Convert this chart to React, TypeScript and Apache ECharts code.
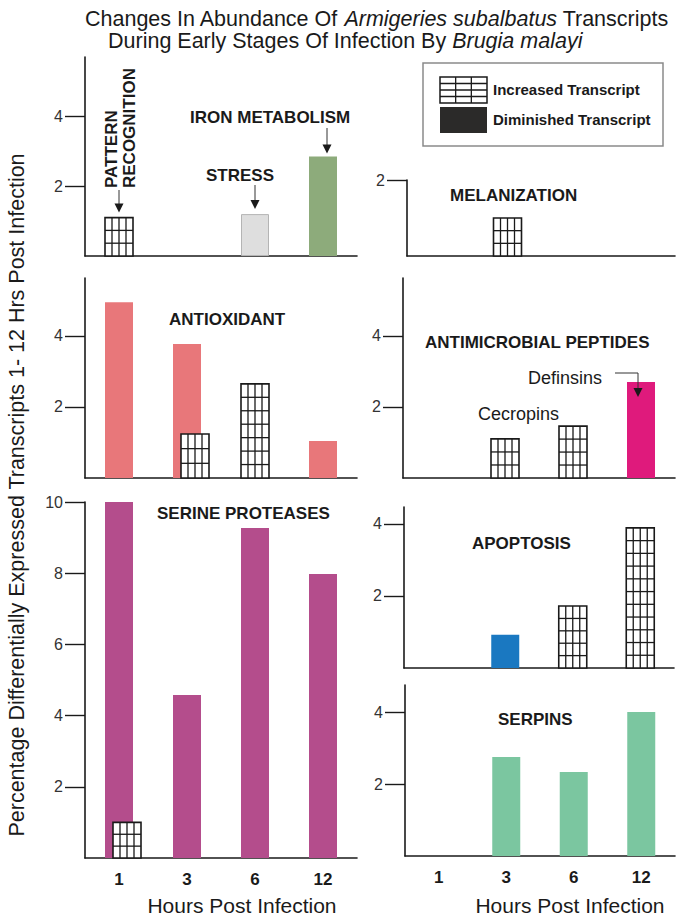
import React, { useEffect, useRef } from "react";
import * as echarts from "echarts";

// ---------- DATA ----------
const categories = ["1", "3", "6", "12"];

// Pattern recognition / stress / iron metabolism panel
const patternRecognitionIncreased = [1.1, null, null, null];
const stressValues = [null, null, 1.2, null];
const ironMetabolismValues = [null, null, null, 2.85];
// Melanization
const melanizationIncreased = [null, 1.0, null, null];
// Antioxidant
const antioxidantValues = [4.95, 3.77, null, 1.04];
const antioxidantIncreased = [null, 1.24, 2.65, null];
// Antimicrobial peptides
const cecropinsIncreased = [null, 1.1, 1.46, null];
const defensinsValues = [null, null, null, 2.7];
// Serine proteases
const serineProteaseValues = [10, 4.58, 9.27, 7.98];
const serineProteaseIncreased = [1.0, null, null, null];
// Apoptosis
const apoptosisValues = [null, 0.92, null, null];
const apoptosisIncreased = [null, null, 1.72, 3.89];
// Serpins
const serpinValues = [null, 2.75, 2.33, 4.0];

// tick labels
const ticksSmall = [2, 4];
const ticksMelanization = [2];
const ticksSerine = [2, 4, 6, 8, 10];

// ---------- STYLE / LAYOUT ----------
const FONT = '"Liberation Sans", Arial, Helvetica, sans-serif';
const INK = "#1a1a1a";
const BAR_W = 28;
const OVERLAP_SHIFT = 8;

const panels = [
  { left: 85, top: 57, width: 272, height: 199, max: 5.7, ticks: ticksSmall, showX: false },
  { left: 407, top: 180, width: 268, height: 76, max: 2, ticks: ticksMelanization, showX: false },
  { left: 85, top: 278, width: 272, height: 200, max: 5.63, ticks: ticksSmall, showX: false },
  { left: 403, top: 278, width: 272, height: 200, max: 5.63, ticks: ticksSmall, showX: false },
  { left: 85, top: 502, width: 272, height: 356, max: 10, ticks: ticksSerine, showX: true },
  { left: 404, top: 507, width: 270, height: 161, max: 4.47, ticks: ticksSmall, showX: false },
  { left: 405, top: 685, width: 270, height: 171, max: 4.75, ticks: ticksSmall, showX: true },
];

function solidBar(g: number, name: string, values: (number | null)[], color: string, border?: string) {
  return {
    type: "bar",
    name,
    xAxisIndex: g,
    yAxisIndex: g,
    data: values,
    barWidth: BAR_W,
    barGap: "-100%",
    z: 2,
    silent: true,
    itemStyle: border
      ? { color, borderColor: border, borderWidth: 1 }
      : { color },
  };
}

function gridBar(g: number, name: string, values: (number | null)[], overlap?: (number | null)[]) {
  const data: number[][] = [];
  values.forEach((v, i) => {
    if (v != null) data.push([i, v]);
  });
  return {
    type: "custom",
    name,
    xAxisIndex: g,
    yAxisIndex: g,
    z: 3,
    silent: true,
    data,
    renderItem: (params: any, api: any) => {
      const ci = api.value(0);
      const v = api.value(1);
      const base = api.coord([ci, 0]);
      const top = api.coord([ci, v]);
      const shift = overlap && overlap[ci] != null ? OVERLAP_SHIFT : 0;
      const x0 = base[0] - BAR_W / 2 + shift;
      const h = base[1] - top[1];
      const children: any[] = [
        {
          type: "rect",
          shape: { x: x0, y: top[1], width: BAR_W, height: h },
          style: { fill: "#ffffff", stroke: INK, lineWidth: 1.6 },
        },
      ];
      for (let k = 1; k < 4; k++) {
        const x = x0 + (BAR_W * k) / 4;
        children.push({
          type: "line",
          shape: { x1: x, y1: top[1], x2: x, y2: base[1] },
          style: { stroke: INK, lineWidth: 1.3 },
        });
      }
      const rows = Math.max(1, Math.round(h / 12.7));
      for (let r = 1; r < rows; r++) {
        const y = base[1] - (h * r) / rows;
        children.push({
          type: "line",
          shape: { x1: x0, y1: y, x2: x0 + BAR_W, y2: y },
          style: { stroke: INK, lineWidth: 1.3 },
        });
      }
      return { type: "group", children };
    },
  };
}

function buildOption() {
  return {
    animation: false,
    backgroundColor: "#ffffff",
    grid: panels.map((p) => ({
      left: p.left,
      top: p.top,
      width: p.width,
      height: p.height,
      containLabel: false,
    })),
    xAxis: panels.map((p, i) => ({
      type: "category",
      gridIndex: i,
      data: categories,
      axisLine: { show: true, onZero: false, lineStyle: { color: INK, width: 1.6 } },
      axisTick: { show: false },
      axisLabel: {
        show: p.showX,
        margin: 13,
        fontWeight: "bold",
        fontSize: 17,
        color: INK,
        fontFamily: FONT,
      },
      splitLine: { show: false },
    })),
    yAxis: panels.map((p, i) => ({
      type: "value",
      gridIndex: i,
      min: 0,
      max: p.max,
      axisLine: { show: true, lineStyle: { color: INK, width: 1.6 } },
      axisTick: {
        show: true,
        inside: false,
        length: 20,
        customValues: p.ticks,
        lineStyle: { color: INK, width: 1.4 },
      },
      axisLabel: {
        show: true,
        customValues: p.ticks,
        margin: 22,
        color: "#333333",
        fontSize: 16,
        fontFamily: FONT,
      },
      splitLine: { show: false },
    })),
    series: [
      gridBar(0, "Pattern recognition", patternRecognitionIncreased),
      solidBar(0, "Stress", stressValues, "#dedede", "#b4b4b4"),
      solidBar(0, "Iron metabolism", ironMetabolismValues, "#8dab7b"),
      gridBar(1, "Melanization", melanizationIncreased),
      solidBar(2, "Antioxidant", antioxidantValues, "#e8777a"),
      gridBar(2, "Antioxidant increased", antioxidantIncreased, antioxidantValues),
      gridBar(3, "Cecropins", cecropinsIncreased),
      solidBar(3, "Definsins", defensinsValues, "#df1a7c"),
      solidBar(4, "Serine proteases", serineProteaseValues, "#b44d8c"),
      gridBar(4, "Serine proteases increased", serineProteaseIncreased, serineProteaseValues),
      solidBar(5, "Apoptosis", apoptosisValues, "#1a78c1"),
      gridBar(5, "Apoptosis increased", apoptosisIncreased),
      solidBar(6, "Serpins", serpinValues, "#7bc6a0"),
    ],
  };
}

function txt(x: number, y: number, text: string, size: number, opts: any = {}) {
  const align = opts.align || "left";
  return {
    type: "text",
    x,
    y,
    rotation: opts.rotation || 0,
    z: 10,
    style: {
      text,
      fill: opts.fill || INK,
      fontSize: size,
      fontFamily: FONT,
      fontWeight: opts.bold ? "bold" : "normal",
      fontStyle: opts.italic ? "italic" : "normal",
      align,
      textAlign: align,
      verticalAlign: "middle",
      textVerticalAlign: "middle",
      lineHeight: opts.lineHeight,
      rich: opts.rich,
    },
  };
}

function arrowHead(x: number, tipY: number) {
  return {
    type: "polygon",
    z: 10,
    shape: { points: [[x - 4.5, tipY - 9], [x + 4.5, tipY - 9], [x, tipY]] },
    style: { fill: INK },
  };
}

function arrowDown(x: number, y1: number, tipY: number) {
  return [
    {
      type: "line",
      z: 10,
      shape: { x1: x, y1, x2: x, y2: tipY - 8 },
      style: { stroke: "#333", lineWidth: 1 },
    },
    arrowHead(x, tipY),
  ];
}

function buildGraphics(chart: any) {
  const px = (g: number, ci: number, v: number) =>
    chart.convertToPixel({ gridIndex: g }, [ci, v]) as number[];

  const pattern = px(0, 0, patternRecognitionIncreased[0] as number);
  const stress = px(0, 2, stressValues[2] as number);
  const iron = px(0, 3, ironMetabolismValues[3] as number);
  const defs = px(3, 3, defensinsValues[3] as number);

  const rich = {
    n: { fontSize: 21.5, fontFamily: FONT, fill: INK },
    i: { fontSize: 21.5, fontFamily: FONT, fill: INK, fontStyle: "italic" },
  };

  const els: any[] = [
    // titles
    txt(85, 19, "{n|Changes In Abundance Of }{i|Armigeries subalbatus}{n| Transcripts}", 21.5, { rich }),
    txt(108, 41, "{n|During Early Stages Of Infection By }{i|Brugia malayi}", 21.5, { rich }),
    // y axis title
    txt(17, 495, "Percentage Differentially Expressed Transcripts 1- 12 Hrs Post Infection", 21.5, {
      align: "center",
      rotation: Math.PI / 2,
    }),
    // x axis titles
    txt(242, 905, "Hours Post Infection", 21, { align: "center" }),
    txt(570, 905, "Hours Post Infection", 21, { align: "center" }),
    // panel labels
    txt(pattern[0] + 1, 188, "PATTERN\nRECOGNITION", 17, { bold: true, rotation: Math.PI / 2, lineHeight: 18 }),
    txt(240, 175, "STRESS", 17, { bold: true, align: "center" }),
    txt(190, 117, "IRON METABOLISM", 17, { bold: true }),
    txt(450, 195, "MELANIZATION", 17, { bold: true }),
    txt(169, 319, "ANTIOXIDANT", 17, { bold: true }),
    txt(425, 342, "ANTIMICROBIAL PEPTIDES", 17, { bold: true }),
    txt(528, 378, "Definsins", 18),
    txt(478, 414, "Cecropins", 18),
    txt(157, 513, "SERINE PROTEASES", 17, { bold: true }),
    txt(472, 543, "APOPTOSIS", 17, { bold: true }),
    txt(498, 719, "SERPINS", 17, { bold: true }),
    // arrows
    ...arrowDown(pattern[0], 190, pattern[1] - 5),
    ...arrowDown(stress[0], 185, stress[1] - 5),
    ...arrowDown(iron[0] + 4, 128, iron[1] - 3),
    {
      type: "polyline",
      z: 10,
      shape: { points: [[615, 373], [defs[0] - 3, 373], [defs[0] - 3, defs[1] + 7]] },
      style: { stroke: "#333", lineWidth: 1, fill: null },
    },
    arrowHead(defs[0] - 3, defs[1] + 15),
    // legend
    {
      type: "rect",
      z: 9,
      shape: { x: 423, y: 63, width: 240, height: 83 },
      style: { fill: "#ffffff", stroke: "#8a8a8a", lineWidth: 1.5 },
    },
    {
      type: "rect",
      z: 10,
      shape: { x: 440, y: 77, width: 47, height: 26 },
      style: { fill: "#ffffff", stroke: INK, lineWidth: 1.5 },
    },
    ...[1, 2].map((k) => ({
      type: "line",
      z: 10,
      shape: { x1: 440 + (47 * k) / 3, y1: 77, x2: 440 + (47 * k) / 3, y2: 103 },
      style: { stroke: INK, lineWidth: 1.3 },
    })),
    ...[1, 2, 3].map((k) => ({
      type: "line",
      z: 10,
      shape: { x1: 440, y1: 77 + (26 * k) / 4, x2: 487, y2: 77 + (26 * k) / 4 },
      style: { stroke: INK, lineWidth: 1.3 },
    })),
    {
      type: "rect",
      z: 10,
      shape: { x: 440, y: 107, width: 47, height: 26 },
      style: { fill: "#2b2a29" },
    },
    txt(493, 89, "Increased Transcript", 15, { bold: true }),
    txt(493, 119, "Diminished Transcript", 15, { bold: true }),
  ];
  return { elements: els };
}

export default function App() {
  const ref = useRef<HTMLDivElement>(null);
  useEffect(() => {
    const chart = echarts.init(ref.current as HTMLDivElement, null, { renderer: "svg" });
    chart.setOption(buildOption() as any);
    chart.setOption({ graphic: buildGraphics(chart) } as any);
    return () => chart.dispose();
  }, []);
  return (
    <div
      ref={ref}
      style={{ position: "absolute", left: 0, top: 0, width: 680, height: 917, background: "#ffffff" }}
    />
  );
}
